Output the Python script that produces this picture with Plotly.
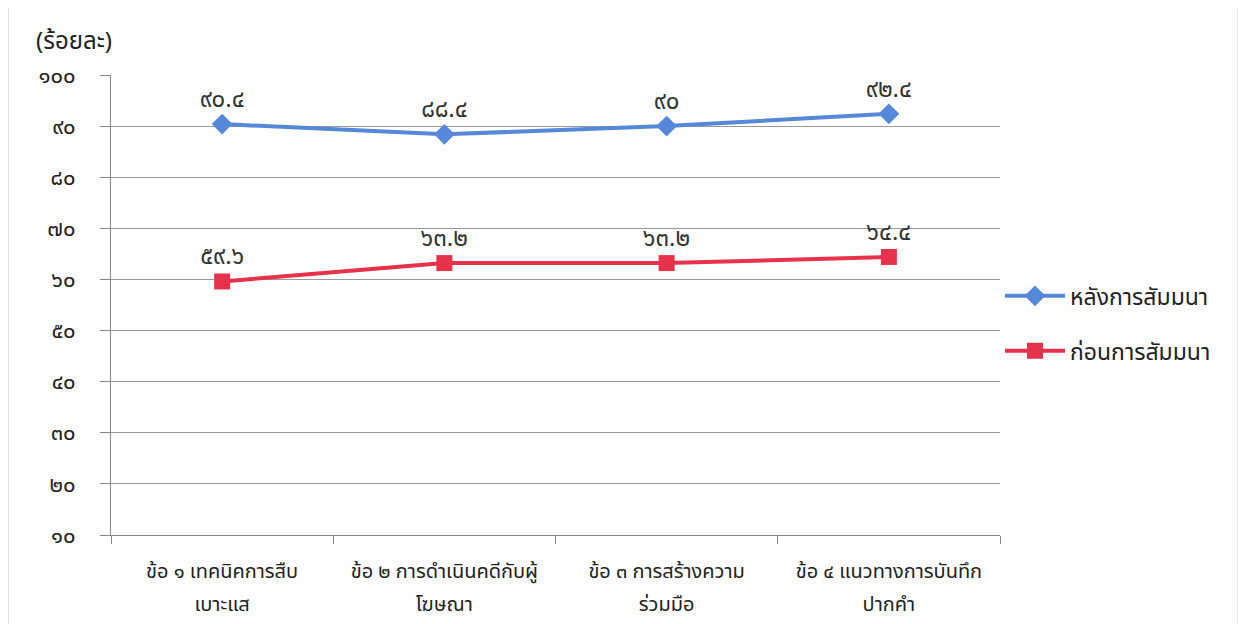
import plotly.graph_objects as go

# ข้อมูล (อ่านจากภาพ)
categories = [
    "ข้อ ๑ เทคนิคการสืบเบาะแส",
    "ข้อ ๒ การดำเนินคดีกับผู้โฆษณา",
    "ข้อ ๓ การสร้างความร่วมมือ",
    "ข้อ ๔ แนวทางการบันทึกปากคำ",
]
label_line1 = ["ข้อ ๑ เทคนิคการสืบ", "ข้อ ๒ การดำเนินคดีกับผู้", "ข้อ ๓ การสร้างความ", "ข้อ ๔ แนวทางการบันทึก"]
label_line2 = ["เบาะแส", "โฆษณา", "ร่วมมือ", "ปากคำ"]
after_values = [90.4, 88.4, 90.0, 92.4]
before_values = [59.6, 63.2, 63.2, 64.4]
after_labels = ["๙๐.๔", "๘๘.๔", "๙๐", "๙๒.๔"]
before_labels = ["๕๙.๖", "๖๓.๒", "๖๓.๒", "๖๔.๔"]
y_ticks = [10, 20, 30, 40, 50, 60, 70, 80, 90, 100]
y_tick_labels = ["๑๐", "๒๐", "๓๐", "๔๐", "๕๐", "๖๐", "๗๐", "๘๐", "๙๐", "๑๐๐"]

FONT = "Noto Sans Thai, Noto Sans, DejaVu Sans, sans-serif"
BLUE = "#5588d8"
RED = "#e6334b"

fig = go.Figure()

# หลังการสัมมนา
fig.add_trace(
    go.Scatter(
        x=categories,
        y=after_values,
        mode="lines+markers+text",
        name="หลังการสัมมนา",
        legendgroup="after",
        line=dict(color=BLUE, width=4),
        marker=dict(symbol="diamond", size=16, color=BLUE),
        text=after_labels,
        textposition="top center",
        textfont=dict(size=24, color="#333333", family=FONT),
    )
)

# ก่อนการสัมมนา (on the overlaid x2 axis, same categories)
fig.add_trace(
    go.Scatter(
        x=categories,
        y=before_values,
        xaxis="x2",
        mode="lines+markers+text",
        name="ก่อนการสัมมนา",
        legendgroup="before",
        line=dict(color=RED, width=4),
        marker=dict(symbol="square", size=16, color=RED),
        text=before_labels,
        textposition="top center",
        textfont=dict(size=24, color="#333333", family=FONT),
    )
)

# page body has an 8px margin, so the figure is a bit smaller and shifted
fig.update_layout(
    width=1238,
    height=616,
    margin=dict(l=103, r=246, t=67, b=89, autoexpand=False),
    paper_bgcolor="white",
    plot_bgcolor="white",
    font=dict(family=FONT, color="#222222"),
    showlegend=True,
    legend=dict(
        x=1.0,
        y=0.46,
        xanchor="left",
        yanchor="middle",
        font=dict(size=23, color="#222222"),
        tracegroupgap=22,
        itemwidth=60,
        bgcolor="rgba(0,0,0,0)",
    ),
    annotations=[
        dict(
            text="(ร้อยละ)",
            x=-0.087,
            y=1.072,
            xref="paper",
            yref="paper",
            xanchor="left",
            yanchor="middle",
            showarrow=False,
            font=dict(size=24, color="#222222"),
        )
    ],
    shapes=[
        # chart frame edges
        dict(type="line", xref="paper", yref="paper",
             x0=-0.116, x1=-0.116, y0=-0.2, y1=1.17,
             line=dict(color="#aaaaaa", width=1)),
        dict(type="line", xref="paper", yref="paper",
             x0=1.268, x1=1.268, y0=-0.2, y1=1.17,
             line=dict(color="#aaaaaa", width=1)),
    ],
)

fig.update_layout(
    xaxis=dict(
        type="category",
        categoryorder="array",
        categoryarray=categories,
        range=[-0.5, 3.5],
        tickmode="array",
        tickvals=categories,
        ticktext=label_line1,
        showline=True,
        linecolor="#888888",
        linewidth=1,
        ticks="outside",
        tickson="boundaries",
        ticklen=8,
        tickcolor="#888888",
        ticklabelstandoff=18,
        showgrid=False,
        tickfont=dict(size=20, color="#222222"),
    ),
    # second line of the category labels, on an overlaid axis
    xaxis2=dict(
        type="category",
        categoryorder="array",
        categoryarray=categories,
        overlaying="x",
        anchor="y",
        side="bottom",
        range=[-0.5, 3.5],
        tickmode="array",
        tickvals=categories,
        ticktext=label_line2,
        ticks="",
        ticklabelstandoff=55,
        showline=False,
        showgrid=False,
        zeroline=False,
        tickfont=dict(size=20, color="#222222"),
    ),
)

fig.update_yaxes(
    range=[10, 100],
    tickvals=y_ticks,
    ticktext=y_tick_labels,
    showline=True,
    linecolor="#888888",
    linewidth=1,
    ticks="outside",
    ticklen=10,
    tickcolor="#888888",
    ticklabelstandoff=20,
    showgrid=True,
    gridcolor="#9a9a9a",
    gridwidth=1,
    zeroline=False,
    tickfont=dict(size=22, color="#222222"),
)

fig.write_html("out.html")
